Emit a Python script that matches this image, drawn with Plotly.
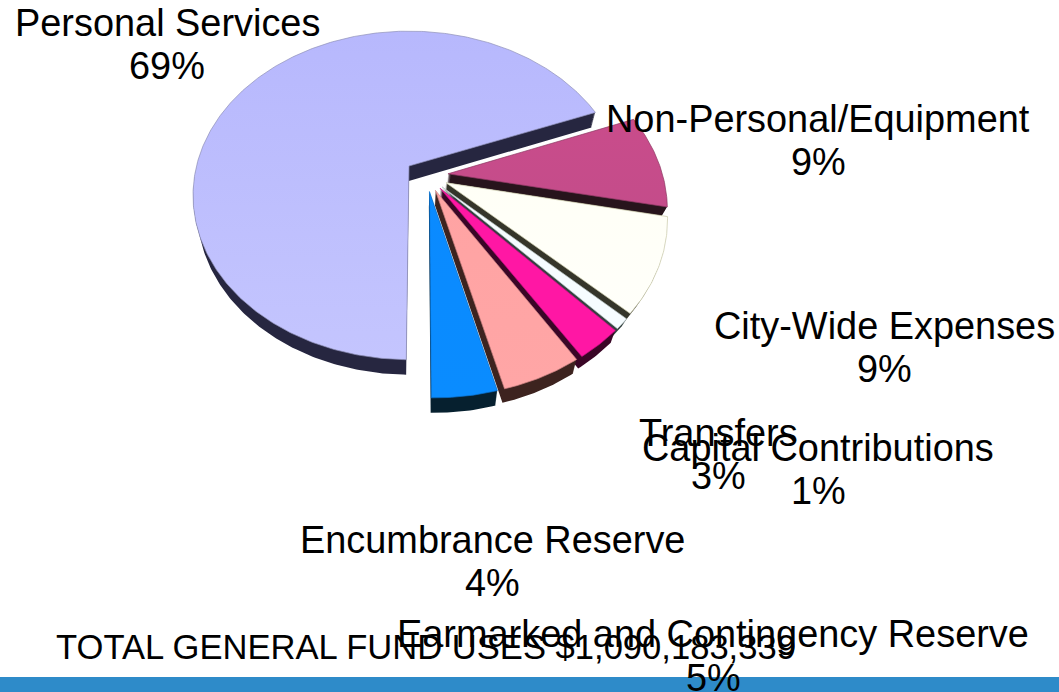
import numpy as np
import plotly.graph_objects as go

# ---- data ----
categories = ["Personal Services", "Non-Personal/Equipment", "City-Wide Expenses",
              "Capital Contributions", "Transfers", "Earmarked and Contingency Reserve",
              "Encumbrance Reserve"]
shares = [69, 9, 9, 1, 3, 5, 4]
total_label = "TOTAL GENERAL FUND USES $1,090,183,339"

# ---- styles ----
top_colors = ["#b7b8fd", "#c94c8b", "#fffff6", "#f6fcff", "#ff17a4", "#ffa3a3", "#0a8aff"]
top_bottom = ["#c4c5fe", "#c44c8a", "#fffffa", "#f6fcff", "#ff17a4", "#ffa6a6", "#0a8cff"]
rim_colors = ["#8f90b8", "#8c3a63", "#c9c9a8", "#b8c4c4", "#c01080", "#c98080", "#0a70cc"]
side_colors = ["#262640", "#27141c", "#35352a", "#33403f", "#3a0626", "#3d231f", "#06202f"]
depths = [15, 9, 7, 7, 12, 14, 15]
# label centre x, first-line y, second-line y
label_pos = [(167, 23, 66), (818, 119, 162), (884, 326, 369), (818, 448, 491),
             (718, 433, 476), (713, 634, 678), (492.5, 540, 583)]
FONT = "Liberation Sans, Arial, sans-serif"

# tilted-disc projection of the pie
X0, Y0, A, B, K = 409.0, 166.0, 159.0, 212.5, 0.179
PULL = 0.1
START = 180.6


def project(u, v):
    w = 1 + K * v
    return X0 + B * u / w, Y0 - A * v / w


fracs = np.array(shares, dtype=float) / sum(shares)
edges = START + 360 * np.concatenate([[0], np.cumsum(fracs)])
mid0 = np.radians((edges[0] + edges[1]) / 2)
base_u, base_v = PULL * np.sin(mid0), PULL * np.cos(mid0)

fig = go.Figure()
faces = []
for i, name in enumerate(categories):
    a0, a1 = edges[i], edges[i + 1]
    mid = np.radians((a0 + a1) / 2)
    du = PULL * np.sin(mid) - base_u
    dv = PULL * np.cos(mid) - base_v
    phi = np.radians(np.linspace(a0, a1, max(8, int((a1 - a0) * 1.5))))
    u = np.concatenate([[du], du + np.sin(phi), [du]])
    v = np.concatenate([[dv], dv + np.cos(phi), [dv]])
    x, y = project(u, v)
    faces.append((x, y))

    # side wall: the top face repeated downwards
    sx, sy = [], []
    for j in range(1, depths[i] + 1):
        f = j / depths[i]
        sx += list(x - 0.02 * (x - 400) * f) + [None]
        sy += list(y + j) + [None]
    fig.add_trace(go.Scatter(x=sx, y=sy, mode="lines", fill="toself", name=name,
                             fillcolor=side_colors[i], line=dict(width=0, color=side_colors[i]),
                             hoverinfo="skip", showlegend=False))

for i, name in enumerate(categories):
    x, y = faces[i]
    fig.add_trace(go.Scatter(
        x=x, y=y, mode="lines", fill="toself", name=name, showlegend=False,
        fillcolor=top_colors[i],
        fillgradient=dict(type="vertical",
                          colorscale=[[0, top_bottom[i]], [1, top_colors[i]]]),
        line=dict(width=0.7, color=rim_colors[i]),
        text=f"{name} {shares[i]}%", hoverinfo="text"))

annotations = []
for name, share, (cx, y1, y2) in zip(categories, shares, label_pos):
    for txt, yy in ((name, y1), (f"{share}%", y2)):
        annotations.append(dict(x=cx, y=yy, text=txt, showarrow=False, xanchor="center",
                                yanchor="middle", font=dict(family=FONT, size=37.9, color="#000000")))
annotations.append(dict(x=426, y=647, text=total_label, showarrow=False, xanchor="center",
                        yanchor="middle", font=dict(family=FONT, size=34.6, color="#000000")))

fig.update_layout(
    width=1059, height=692, margin=dict(l=0, r=0, t=0, b=0),
    paper_bgcolor="#ffffff", plot_bgcolor="#ffffff", showlegend=False,
    xaxis=dict(range=[0, 1059], visible=False, fixedrange=True),
    yaxis=dict(range=[692, 0], visible=False, fixedrange=True),
    annotations=annotations,
    shapes=[dict(type="rect", xref="paper", yref="y", x0=0, x1=1, y0=677, y1=692,
                 fillcolor="#2e8bc9", line=dict(width=0), layer="below")],
)
fig.write_html("out.html", config={"displayModeBar": False},
               post_script="document.body.style.margin='0';")
